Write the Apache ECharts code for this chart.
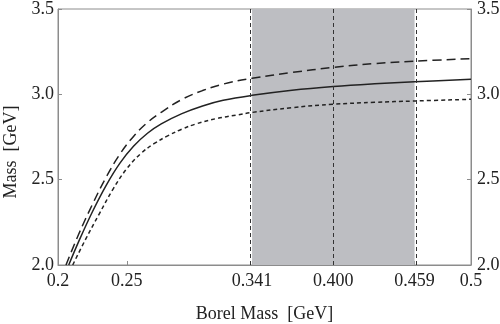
<!DOCTYPE html>
<html>
<head>
<meta charset="utf-8">
<script src="https://cdn.jsdelivr.net/npm/echarts@6/dist/echarts.min.js"></script>
<style>
  html, body { margin: 0; padding: 0; background: #fff; }
  #chart { width: 500px; height: 324px; }
</style>
</head>
<body>
<div id="chart"></div>
<script>
  // central value (solid)
  const central_x = [0.2078, 0.215, 0.225, 0.235, 0.245, 0.255, 0.265, 0.275, 0.29, 0.305, 0.32, 0.341, 0.37, 0.4, 0.43, 0.459, 0.5];
  const central_y = [2.00, 2.137, 2.312, 2.467, 2.597, 2.697, 2.772, 2.827, 2.887, 2.932, 2.965, 2.994, 3.024, 3.046, 3.062, 3.074, 3.088];
  // upper bound (long dashes)
  const upper_x = [0.2058, 0.215, 0.225, 0.235, 0.245, 0.255, 0.265, 0.275, 0.29, 0.305, 0.32, 0.341, 0.37, 0.4, 0.43, 0.459, 0.5];
  const upper_y = [2.00, 2.18, 2.355, 2.515, 2.65, 2.755, 2.835, 2.895, 2.97, 3.022, 3.06, 3.094, 3.128, 3.158, 3.18, 3.194, 3.209];
  // lower bound (short dashes)
  const lower_x = [0.2107, 0.22, 0.23, 0.24, 0.25, 0.26, 0.27, 0.28, 0.29, 0.30, 0.315, 0.33, 0.341, 0.37, 0.4, 0.43, 0.459, 0.5];
  const lower_y = [2.00, 2.15, 2.30, 2.445, 2.565, 2.652, 2.712, 2.758, 2.796, 2.826, 2.858, 2.879, 2.894, 2.922, 2.942, 2.953, 2.961, 2.971];

  const x_ticks = [0.2, 0.25, 0.341, 0.4, 0.459, 0.5];
  const x_tick_labels = ['0.2', '0.25', '0.341', '0.400', '0.459', '0.5'];
  const window_lines = [0.341, 0.4, 0.459];
  const window_range = [0.341, 0.459];

  const zip = (xs, ys) => xs.map((x, i) => [x, ys[i]]);

  const font = 'Liberation Serif';
  const axisGray = '#8c8c8c';
  const ink = '#222';

  const myChart = echarts.init(document.getElementById('chart'), null, { renderer: 'canvas' });

  const yAxisBase = {
    type: 'value',
    min: 2.0,
    max: 3.5,
    interval: 0.5,
    axisLine: { show: true, lineStyle: { color: axisGray, width: 1 } },
    axisTick: { show: true, inside: true, length: 4, lineStyle: { color: axisGray } },
    splitLine: { show: false },
    axisLabel: {
      fontFamily: font,
      fontSize: 18,
      color: ink,
      formatter: v => v.toFixed(1)
    }
  };

  myChart.setOption({
    animation: false,
    grid: {
      left: 58,
      right: 29,
      top: 9,
      bottom: 59,
      outerBoundsMode: 'none',
      containLabel: false,
      show: true,
      borderColor: axisGray,
      borderWidth: 1
    },
    xAxis: {
      type: 'value',
      min: 0.2,
      max: 0.5,
      name: 'Borel Mass  [GeV]',
      nameLocation: 'middle',
      nameGap: 40,
      nameTextStyle: { fontFamily: font, fontSize: 18, color: ink },
      axisLine: { show: true, lineStyle: { color: axisGray, width: 1 } },
      axisTick: { show: true, inside: true, length: 4, customValues: x_ticks, lineStyle: { color: axisGray } },
      splitLine: { show: false },
      axisLabel: {
        customValues: x_ticks,
        margin: 7,
        fontFamily: font,
        fontSize: 18,
        color: ink,
        formatter: v => x_tick_labels[x_ticks.indexOf(v)] ?? ''
      }
    },
    yAxis: [
      Object.assign({}, yAxisBase, {
        position: 'left',
        name: 'Mass  [GeV]',
        nameLocation: 'middle',
        nameGap: 36,
        nameTextStyle: { fontFamily: font, fontSize: 18, color: ink, padding: [0, 30, 0, 0] },
        axisLabel: Object.assign({}, yAxisBase.axisLabel, { margin: 4 })
      }),
      Object.assign({}, yAxisBase, {
        position: 'right',
        axisLabel: Object.assign({}, yAxisBase.axisLabel, { margin: 6 })
      })
    ],
    series: [
      {
        name: 'window',
        type: 'line',
        data: [],
        silent: true,
        markArea: {
          silent: true,
          itemStyle: { color: '#bdbec2' },
          data: [[{ xAxis: window_range[0] }, { xAxis: window_range[1] }]]
        },
        markLine: {
          silent: true,
          symbol: 'none',
          label: { show: false },
          lineStyle: { color: '#333', type: [4, 3], width: 1 },
          data: window_lines.map(v => ({ xAxis: v }))
        },
        z: 1
      },
      {
        name: 'upper',
        type: 'line',
        smooth: 0.4,
        symbol: 'none',
        clip: true,
        lineStyle: { color: ink, width: 1.5, type: [9, 5] },
        data: zip(upper_x, upper_y),
        z: 3
      },
      {
        name: 'central',
        type: 'line',
        smooth: 0.4,
        symbol: 'none',
        clip: true,
        lineStyle: { color: ink, width: 1.5 },
        data: zip(central_x, central_y),
        z: 3
      },
      {
        name: 'lower',
        type: 'line',
        smooth: 0.4,
        symbol: 'none',
        clip: true,
        lineStyle: { color: ink, width: 1.5, type: [4, 3] },
        data: zip(lower_x, lower_y),
        z: 3
      }
    ]
  });
</script>
</body>
</html>
